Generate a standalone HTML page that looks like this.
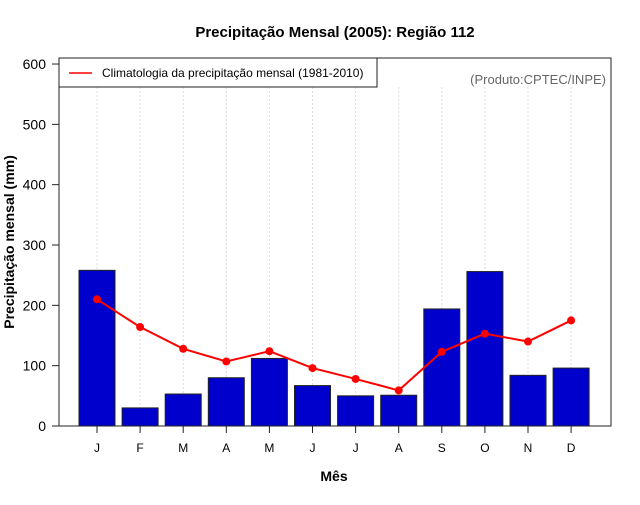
<!DOCTYPE html>
<html><head><meta charset="utf-8"><style>
body{margin:0;background:#fff;font-family:"Liberation Sans",sans-serif}
</style></head><body>
<svg width="640" height="500" xmlns="http://www.w3.org/2000/svg" font-family="Liberation Sans, sans-serif">
<rect width="640" height="500" fill="#fff"/>
<text x="335" y="37" text-anchor="middle" font-weight="bold" font-size="15">Precipitação Mensal (2005): Região 112</text>
<g id="grid"></g>
<g id="yaxis"></g>
<g id="xaxis"></g>
<g id="bars"></g>
<g id="line"></g>
<rect x="59" y="58" width="552" height="368" fill="none" stroke="#222" stroke-width="1"/>
<g>
<rect x="59" y="58" width="318" height="29" fill="#fff" stroke="#222"/>
<line x1="69" y1="73" x2="92" y2="73" stroke="red" stroke-width="1.5"/>
<text x="102" y="77" font-size="12">Climatologia da precipitação mensal (1981-2010)</text>
</g>
<text x="606" y="84" text-anchor="end" font-size="13" fill="#666">(Produto:CPTEC/INPE)</text>
<text x="334" y="481" text-anchor="middle" font-weight="bold" font-size="14">Mês</text>
<text transform="translate(14,242) rotate(-90)" text-anchor="middle" font-weight="bold" font-size="14">Precipitação mensal (mm)</text>
</svg>
<script>
const months=["J","F","M","A","M","J","J","A","S","O","N","D"];
const precip=[258,30,53,80,112,67,50,51,194,256,84,96];
const clim=[210,164,128,107,124,96,78,59,123,153,140,175];
const yTicks=[0,100,200,300,400,500,600];
const NS="http://www.w3.org/2000/svg";
const y=v=>426-v*0.6033;
const x=i=>97+i*43.1;
function mk(t,a,p){const e=document.createElementNS(NS,t);for(const k in a)e.setAttribute(k,a[k]);p.appendChild(e);return e;}
const g=document.getElementById('grid'),ya=document.getElementById('yaxis'),xa=document.getElementById('xaxis'),b=document.getElementById('bars'),l=document.getElementById('line');
yTicks.forEach(v=>{
 const t=mk('line',{x1:52,x2:59,y1:y(v),y2:y(v),stroke:'#222'},ya);
 
 
 const tx=mk('text',{x:46,y:y(v)+5,'text-anchor':'end','font-size':14},ya);tx.textContent=v;
 
 
});
months.forEach((m,i)=>{
 const gl=mk('line',{x1:x(i),x2:x(i),y1:87,y2:426,stroke:'#ddd','stroke-dasharray':'2,2'},g);
 
 
 const t=mk('line',{x1:x(i),x2:x(i),y1:426,y2:433,stroke:'#222'},xa);
 
 
 const tx=mk('text',{x:x(i),y:452,'text-anchor':'middle','font-size':12},xa);tx.textContent=m;
 
 
 const r=mk('rect',{x:x(i)-18,y:y(precip[i]),width:36,height:426-y(precip[i]),fill:'#0000cc',stroke:'#222','stroke-width':1},b);
 
 
});
const pl=mk('polyline',{points:clim.map((v,i)=>x(i)+','+y(v)).join(' '),fill:'none',stroke:'red','stroke-width':2},l);


clim.forEach((v,i)=>{
 const c=mk('circle',{cx:x(i),cy:y(v),r:4,fill:'red'},l);
 
 
});
</script>
</body></html>
